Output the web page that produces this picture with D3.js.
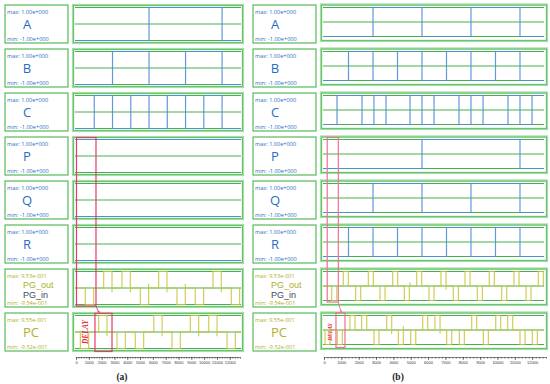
<!DOCTYPE html>
<html>
<head>
<meta charset="utf-8">
<script src="https://d3js.org/d3.v7.min.js"></script>
<style>
  body { margin: 0; background: #fff; }
  svg { display: block; }
  .lbl { font-family: "Open Sans", "DejaVu Sans", sans-serif; }
  .pgl { font-family: "Liberation Sans", "Open Sans", sans-serif; }
  .axis text { font-family: "Liberation Sans", sans-serif; font-size: 4px; fill: #333; }
  .axis path, .axis line { stroke: #333; stroke-width: 0.6; }
</style>
</head>
<body>
<svg width="550" height="384"></svg>
<script>
// ---- data ----
const rowNames = ["A", "B", "C", "P", "Q", "R", "PG", "PC"];
const tickValues = [0, 1000, 2000, 3000, 4000, 5000, 6000, 7000, 8000, 9000, 10000, 11000, 12000];
const minorTicks = d3.range(0, 12801, 200);

// binary rows: edge times and starting level, panel (a)
const edgesA1 = [5700, 11400];
const edgesB1 = [2850, 5700, 8550, 11400];
const edgesC1 = [1425, 2850, 4275, 5700, 7125, 8550, 9975, 11400];
const edgesP1 = [];
const edgesQ1 = [];
const edgesR1 = [];
const start1 = [-1, -1, -1, 1, -1, -1];

// panel (b)
const edgesA2 = [2825, 5650, 8475, 11300];
const edgesB2 = [1413, 2825, 4238, 5650, 7063, 8475, 9888, 11300];
const edgesC2 = [750, 2190, 2880, 3575, 4960, 5650, 6345, 7785, 8475, 9170, 10610, 11300, 11995];
const edgesP2 = [5650, 11300];
const edgesQ2 = [2825, 5650, 8475, 11300];
const edgesR2 = [1413, 2825, 4238, 5650, 7063, 8475, 9888, 11300];
const start2 = [-1, -1, -1, -1, -1, -1];

// pulse rows
const pgStart1 = [725, 2160, 3590, 5020, 6450, 7880, 9310, 10690, 12120];
const pgDir1 = [-1, 1, 1, -1, 1, -1, -1, 1, -1];
const pcStart1 = [340, 1770, 3200, 4630, 6070, 7490, 8920, 10360, 11790];
const pcDir1 = [-1, 1, -1, -1, 1, -1, 1, 1, -1];
const pgGlitch1 = [[2810, -1], [4240, -1], [5670, 1], [7100, -1], [8530, 1], [11340, -1]];
const pcGlitch1 = [[2420, -1], [6720, -1], [9580, -1], [11000, -1]];
const pulseWidth1 = 650;

const pgStart2 = [444, 1113, 1826, 2556, 3230, 3960, 4633, 5344, 6054, 6746, 7457, 8130, 8840, 9531, 10246, 10955, 11647, 12357];
const pgDir2 = [-1, 1, -1, 1, -1, 1, -1, 1, -1, 1, -1, 1, -1, 1, -1, 1, -1, 1];
const pcStart2 = [58, 767, 1500, 2172, 2883, 3614, 4287, 5000, 5690, 6400, 7073, 7803, 8515, 9187, 9900, 10592, 11301, 12011];
const pcDir2 = [-1, -1, 1, 1, -1, 1, -1, -1, 1, 1, -1, -1, 1, -1, 1, 1, -1, -1];
const pgGlitch2 = [[4960, 1], [7040, -1]];
const pcGlitch2 = [[3903, -1], [4575, 1], [6690, -1]];
const pulseWidth2 = 290;

const maxLabels = ["1.00e+000", "1.00e+000", "1.00e+000", "1.00e+000", "1.00e+000", "1.00e+000", "9.53e-001", "9.55e-001"];
const minLabels = ["-1.00e+000", "-1.00e+000", "-1.00e+000", "-1.00e+000", "-1.00e+000", "-1.00e+000", "-9.54e-001", "-9.52e-001"];
const pgMax = 0.953, pgMin = -0.954;

// delay annotation (time span of boxes)
const delayBox1 = [0, 1560], delayPC1 = [1480, 2810];
const delayBox2 = [156, 825], delayPC2 = [690, 1210];

// ---- drawing ----
const svg = d3.select("svg");
const rowTop = i => 5 + 44 * i;
const green = "#46b04e", boxGreen = "#62c068", blue = "#4f8fd8", yellow = "#c8c43c";
const textBlue = "#2a6cc4", textOlive = "#b3ae2a";

const panels = [
  { labelX: 5, boxX0: 73, boxX1: 243, range: [76, 240], lineX: [75, 241],
    boxY: [0, 38], lines: [2.5, 19, 35.5],
    edges: [edgesA1, edgesB1, edgesC1, edgesP1, edgesQ1, edgesR1], start: start1,
    pg: [pgStart1, pgDir1, pgGlitch1], pc: [pcStart1, pcDir1, pcGlitch1], pw: pulseWidth1,
    delay: delayBox1, delayPC: delayPC1, tag: "(a)", tagX: 122, delayFont: 7.5, pink: "#e8386c" },
  { labelX: 253, boxX0: 321, boxX1: 547, range: [324, 546], lineX: [323, 544],
    boxY: [-0.5, 36], lines: [2.5, 17, 31.5],
    edges: [edgesA2, edgesB2, edgesC2, edgesP2, edgesQ2, edgesR2], start: start2,
    pg: [pgStart2, pgDir2, pgGlitch2], pc: [pcStart2, pcDir2, pcGlitch2], pw: pulseWidth2,
    delay: delayBox2, delayPC: delayPC2, tag: "(b)", tagX: 398, delayFont: 5.5, pink: "#ef6f97" }
];

panels.forEach(p => {
  const x = d3.scaleLinear().domain([0, 12800]).range(p.range);
  const tStart = x.invert(p.lineX[0]), tEnd = x.invert(p.lineX[1]);
  const g = svg.append("g");

  rowNames.forEach((name, i) => {
    const t = rowTop(i);
    const isPulse = i >= 6;
    const tc = isPulse ? textOlive : textBlue;

    // label box
    g.append("rect").attr("x", p.labelX).attr("y", t).attr("width", 63).attr("height", 38)
      .attr("fill", "none").attr("stroke", boxGreen).attr("stroke-width", 1.3);
    g.append("text").attr("class", "lbl").attr("x", p.labelX + 2).attr("y", t + 8.5)
      .attr("font-size", 5.6).attr("fill", tc).text("max: " + maxLabels[i]);
    g.append("text").attr("class", "lbl").attr("x", p.labelX + 2).attr("y", t + 36)
      .attr("font-size", 5.6).attr("fill", tc).text("min: " + minLabels[i]);
    if (name === "PG") {
      g.append("text").attr("class", "pgl").attr("x", p.labelX + 18).attr("y", t + 18.5)
        .attr("font-size", 9).attr("fill", textOlive).text("PG_out");
      g.append("text").attr("class", "pgl").attr("x", p.labelX + 18).attr("y", t + 29)
        .attr("font-size", 9).attr("fill", "#3e4a5e").text("PG_in");
    } else {
      g.append("text").attr("class", "lbl").attr("x", p.labelX + (name === "PC" ? 18 : 22))
        .attr("y", t + 24).attr("text-anchor", name === "PC" ? "start" : "middle")
        .attr("font-size", 13).attr("fill", tc).text(name);
    }

    // plot box
    g.append("rect").attr("x", p.boxX0).attr("y", t + p.boxY[0])
      .attr("width", p.boxX1 - p.boxX0).attr("height", p.boxY[1] - p.boxY[0])
      .attr("fill", "none").attr("stroke", "#a6dca8").attr("stroke-width", 2.2);
    g.append("rect").attr("x", p.boxX0 + 0.6).attr("y", t + p.boxY[0] + 0.6)
      .attr("width", p.boxX1 - p.boxX0 - 1.2).attr("height", p.boxY[1] - p.boxY[0] - 1.2)
      .attr("fill", "none").attr("stroke", boxGreen).attr("stroke-width", 1);

    p.lines.forEach(ly => {
      g.append("line").attr("x1", p.lineX[0]).attr("x2", p.lineX[1])
        .attr("y1", t + ly).attr("y2", t + ly).attr("stroke", green).attr("stroke-width", 1.1);
    });

    const line = d3.line().x(d => x(d[0])).y(d => d[1]);
    if (!isPulse) {
      const y = d3.scaleLinear().domain([-1, 1]).range([t + p.lines[2], t + p.lines[0]]);
      let lvl = p.start[i];
      const pts = [[tStart, y(lvl)]];
      p.edges[i].forEach(e => {
        pts.push([e, y(lvl)]);
        lvl = -lvl;
        pts.push([e, y(lvl)]);
      });
      pts.push([tEnd, y(lvl)]);
      g.append("path").attr("d", line(pts)).attr("fill", "none")
        .attr("stroke", blue).attr("stroke-width", 1.2).attr("stroke-opacity", 0.9);
    } else {
      const y = d3.scaleLinear().domain([pgMin, pgMax]).range([t + p.lines[2], t + p.lines[0]]);
      const [starts, dirs, glitches] = name === "PG" ? p.pg : p.pc;
      const pts = [[tStart, y(0)]];
      starts.forEach((s, k) => {
        const v = dirs[k] > 0 ? pgMax : pgMin;
        const e = Math.min(s + p.pw, tEnd);
        pts.push([s, y(0)], [s, y(v)], [e, y(v)], [e, y(0)]);
      });
      pts.push([tEnd, y(0)]);
      g.append("path").attr("d", line(pts)).attr("fill", "none")
        .attr("stroke", yellow).attr("stroke-width", 1.2).attr("stroke-opacity", 0.85);
      glitches.forEach(([gt, gd]) => {
        g.append("line").attr("x1", x(gt)).attr("x2", x(gt))
          .attr("y1", y(0)).attr("y2", y(gd * 0.25))
          .attr("stroke", yellow).attr("stroke-width", 1);
      });
    }
  });

  // delay annotation
  const pgRow = rowTop(6), pcRow = rowTop(7), pRow = rowTop(3);
  const bx0 = x(p.delay[0]) + 0.5, bx1 = x(p.delay[1]);
  const byBot = pgRow + p.lines[2] + 1.5;
  g.append("rect").attr("x", bx0).attr("y", pRow + 0.5).attr("width", bx1 - bx0)
    .attr("height", byBot - pRow - 0.5).attr("fill", "none")
    .attr("stroke", p.pink).attr("stroke-width", 1.2);
  const cx0 = x(p.delayPC[0]), cx1 = x(p.delayPC[1]);
  const cyTop = pcRow + p.boxY[0] + 0.3, cyBot = pcRow + p.lines[2] + 3;
  g.append("rect").attr("x", cx0).attr("y", cyTop).attr("width", cx1 - cx0)
    .attr("height", cyBot - cyTop).attr("fill", "none")
    .attr("stroke", p.pink).attr("stroke-width", 1.2);
  g.append("line").attr("x1", bx1).attr("y1", byBot).attr("x2", bx1 + 2.6).attr("y2", cyTop - 1)
    .attr("stroke", p.pink).attr("stroke-width", 0.9);
  g.append("path")
    .attr("d", `M${bx1 + 1.6},${cyTop - 2.2} L${bx1 + 3.2},${cyTop} L${bx1 + 3.6},${cyTop - 2.6}Z`)
    .attr("fill", p.pink);
  const dx = (p.lineX[0] + cx0) / 2 + 0.5, dy = pcRow + 19;
  g.append("text").attr("transform", `translate(${dx},${dy}) rotate(-90)`)
    .attr("text-anchor", "middle").attr("dy", "0.35em")
    .attr("font-family", "Liberation Serif, serif").attr("font-style", "italic").attr("font-weight", "bold")
    .attr("font-size", p.delayFont).attr("fill", "#e8283c").text("DELAY");

  // axis
  const axisY = 357;
  g.append("g").attr("class", "axis").attr("transform", `translate(0,${axisY})`)
    .call(d3.axisBottom(x).tickValues(minorTicks).tickSize(1.6).tickSizeOuter(0).tickFormat(""));
  g.append("g").attr("class", "axis").attr("transform", `translate(0,${axisY})`)
    .call(d3.axisBottom(x).tickValues(tickValues).tickSize(3).tickSizeOuter(0).tickPadding(1.5)
      .tickFormat(d3.format("d")))
    .select(".domain").remove();

  g.append("text").attr("x", p.tagX).attr("y", 380).attr("text-anchor", "middle")
    .attr("font-family", "Liberation Serif, serif").attr("font-weight", "bold")
    .attr("font-size", 9.5).attr("fill", "#222").text(p.tag);
});
</script>
</body>
</html>
